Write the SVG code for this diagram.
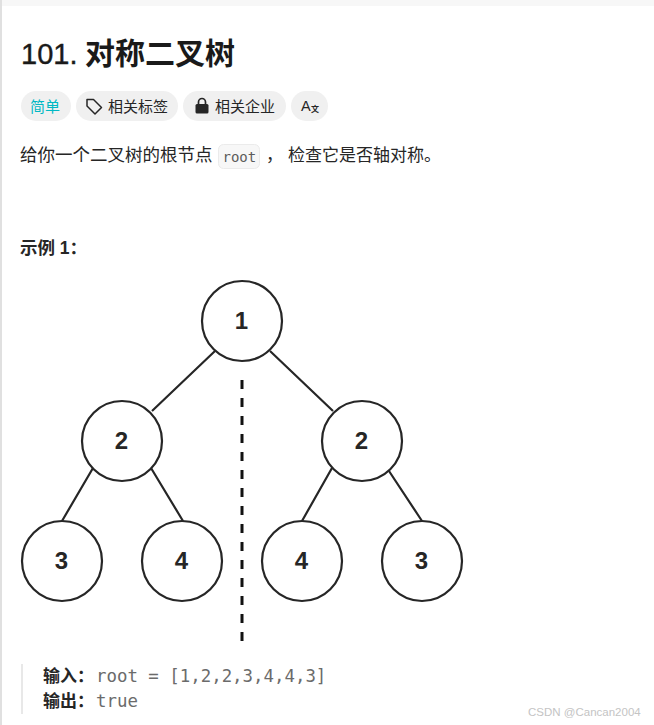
<svg xmlns="http://www.w3.org/2000/svg" width="654" height="725" viewBox="0 0 654 725">
<style>
.cjk{font-family:"Liberation Sans","Noto Sans CJK SC",sans-serif}
.mono{font-family:"DejaVu Sans Mono",monospace}
.pill{fill:#f0f0f0}
.n circle{fill:#fff;stroke:#262626;stroke-width:2.2}
.n text{font-family:"Liberation Sans",sans-serif;font-weight:700;font-size:24px;fill:#262626;text-anchor:middle}
.e{stroke:#262626;stroke-width:2.2;fill:none}
.t{font-size:15px;fill:#262626}
</style>
<rect width="654" height="725" fill="#fff"/>
<rect width="654" height="6" fill="#f7f7f7"/>
<rect width="2" height="725" fill="#e0e0e0"/>
<text x="21" y="64" class="cjk" font-size="29" fill="#1a1a1a" stroke="#1a1a1a" stroke-width="0.400">101.</text>
<text x="85" y="64" class="cjk" font-size="30" fill="#1a1a1a" font-weight="700">对称二叉树</text>
<rect class="pill" x="21" y="91" width="50" height="30" rx="15"/>
<text x="30" y="112" class="cjk" font-size="15" fill="#00b8c4">简单</text>
<rect class="pill" x="76" y="91" width="102" height="30" rx="15"/>
<path d="M87 99.500h6.500l8 8-6.500 6.500-8-8z" fill="none" stroke="#262626" stroke-width="1.500" stroke-linejoin="round"/>
<text x="108" y="112" class="cjk t">相关标签</text>
<rect class="pill" x="183" y="91" width="103" height="30" rx="15"/>
<path d="M198.500 105v-3a3.500 3.500 0 0 1 7 0v3" fill="none" stroke="#262626" stroke-width="1.700"/>
<rect x="195.500" y="104" width="13" height="9.500" rx="1.500" fill="#262626"/>
<text x="215" y="112" class="cjk t">相关企业</text>
<rect class="pill" x="291" y="91" width="37" height="30" rx="15"/>
<text x="301" y="111" class="cjk" font-size="14.500" fill="#262626">A</text>
<text x="311" y="112" class="cjk" font-size="8" font-weight="700" fill="#262626">文</text>
<text x="20" y="161" class="cjk" font-size="17.500" fill="#262626">给你一个二叉树的根节点</text>
<rect x="218.500" y="144.500" width="41" height="24" rx="5" fill="#f7f7f7" stroke="#ebebeb"/>
<text x="222.500" y="162" class="mono" font-size="14" fill="#5c5c5c">root</text>
<text x="266" y="161" class="cjk" font-size="17" fill="#262626">，</text>
<text x="288" y="161" class="cjk" font-size="17" fill="#262626">检查它是否轴对称。</text>
<text x="20" y="254" class="cjk" font-size="17.500" font-weight="700" fill="#262626">示例 1：</text>
<g id="connectors">
<path class="e" d="M215 351 152 411M270 351 333 411M93 468 62 521M151 468 183 521M332 468 302 521M387 468 422 521"/>
<path d="M242 380V641" fill="none" stroke="#111" stroke-width="3" stroke-dasharray="9 9"/>
</g>
<g id="n1" class="n"><circle cx="242" cy="321" r="40"/><text x="241.500" y="329">1</text></g>
<g id="n2" class="n"><circle cx="122" cy="441" r="40"/><text x="121.500" y="449">2</text></g>
<g id="n3" class="n"><circle cx="362" cy="441" r="40"/><text x="361.500" y="449">2</text></g>
<g id="n4" class="n"><circle cx="62" cy="561" r="40"/><text x="61.500" y="569">3</text></g>
<g id="n5" class="n"><circle cx="182" cy="561" r="40"/><text x="181.500" y="569">4</text></g>
<g id="n6" class="n"><circle cx="302" cy="561" r="40"/><text x="301.500" y="569">4</text></g>
<g id="n7" class="n"><circle cx="422" cy="561" r="40"/><text x="421.500" y="569">3</text></g>
<rect x="21" y="664" width="2" height="50" fill="#e8e8e8"/>
<text x="43" y="682" class="cjk" font-size="17" font-weight="700" fill="#262626">输入：</text>
<text x="96" y="682" class="mono" font-size="17.400" fill="#6b6b6b" xml:space="preserve">root = [1,2,2,3,4,4,3]</text>
<text x="43" y="707" class="cjk" font-size="17" font-weight="700" fill="#262626">输出：</text>
<text x="96" y="707" class="mono" font-size="17.400" fill="#6b6b6b">true</text>
<text x="528" y="716" class="cjk" font-size="11.500" fill="#c4c4c4">CSDN @Cancan2004</text>
</svg>
